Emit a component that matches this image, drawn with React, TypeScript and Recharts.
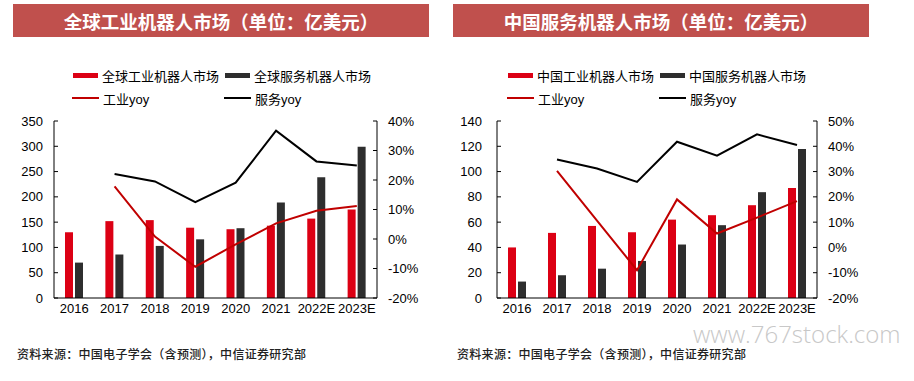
import { ComposedChart, Bar, Line, XAxis, YAxis } from 'recharts';

// categories
const years = ['2016', '2017', '2018', '2019', '2020', '2021', '2022E', '2023E'];

// 全球 (亿美元 / %)
const globalInd = [130, 152, 154, 139, 136, 143, 157, 175];
const globalSrv = [70, 86, 103, 116, 138, 189, 239, 299];
const globalIndYoy = [null, 17.8, 0.8, -9.4, -1.8, 5.3, 9.6, 11.2];
const globalSrvYoy = [null, 22.0, 19.5, 12.5, 19.1, 36.7, 26.3, 24.9];

// 中国 (亿美元 / %)
const chinaInd = [40, 51.5, 57, 52, 62, 65.5, 73.4, 87];
const chinaSrv = [13, 18, 23.2, 29.3, 42.3, 57.6, 83.7, 117.8];
const chinaIndYoy = [null, 30.3, 10.6, -9.0, 19.0, 5.5, 11.8, 18.3];
const chinaSrvYoy = [null, 34.8, 31.2, 25.9, 41.8, 36.3, 44.7, 40.5];

// ticks
const globalLeftTicks = [0, 50, 100, 150, 200, 250, 300, 350];
const globalRightTicks = [-20, -10, 0, 10, 20, 30, 40];
const chinaLeftTicks = [0, 20, 40, 60, 80, 100, 120, 140];
const chinaRightTicks = [-20, -10, 0, 10, 20, 30, 40, 50];

const C = {
  title: '#C0504D',
  red: '#DC0014',
  dark: '#2E2E2E',
  redLine: '#C00000',
  black: '#000000',
  text: '#000000',
  num: "'Liberation Sans', Arial, sans-serif",
  cjk: "'Liberation Sans', 'Noto Sans CJK SC', sans-serif",
};

const build = (ind: number[], srv: number[], iy: (number | null)[], sy: (number | null)[]) =>
  years.map((y, i) => ({ year: y, ind: ind[i], srv: srv[i], indYoy: iy[i], srvYoy: sy[i] }));

function Legend({ x0, names }: { x0: number; names: string[] }) {
  const item = (x: number, y: number, marker: React.ReactNode, label: string) => (
    <div style={{ position: 'absolute', left: x, top: y - 9, height: 18, display: 'flex',
      alignItems: 'center', fontFamily: C.cjk, fontSize: 13, color: C.text, whiteSpace: 'nowrap' }}>
      {marker}
      <span style={{ marginLeft: 4 }}>{label}</span>
    </div>
  );
  const rect = (c: string) => <div style={{ width: 25, height: 5, background: c }} />;
  const line = (c: string) => <div style={{ width: 27, height: 2.5, background: c }} />;
  return (
    <>
      {item(x0, 75, rect(C.red), names[0])}
      {item(x0 + 152, 75, rect(C.dark), names[1])}
      {item(x0 - 1, 98, line(C.redLine), names[2])}
      {item(x0 + 151, 98, line(C.black), names[3])}
    </>
  );
}

interface PanelProps {
  left: number;
  title: string;
  legendX: number;
  names: string[];
  data: any[];
  leftTicks: number[];
  rightTicks: number[];
  leftW: number;
  leftGap: number;
}

function Panel(p: PanelProps) {
  const tick = { fontFamily: C.num, fontSize: 13, fill: C.text };
  return (
    <div style={{ position: 'absolute', left: p.left, top: 0, width: 440, height: 381 }}>
      <ComposedChart width={430} height={330} data={p.data} barSize={8} barGap={2}
        margin={{ top: 121, right: 8, left: 0, bottom: 2 }}>
        <XAxis dataKey="year" interval={0} tickLine={false} tickSize={0} tickMargin={6}
          axisLine={{ stroke: '#000' }} tick={tick} />
        <YAxis yAxisId="l" orientation="left" width={p.leftW} domain={[p.leftTicks[0], p.leftTicks[p.leftTicks.length - 1]]}
          ticks={p.leftTicks} interval={0} axisLine={{ stroke: '#000' }} tickLine={{ stroke: '#000' }}
          tickSize={-4} tickMargin={p.leftGap + 4} tick={tick} />
        <YAxis yAxisId="r" orientation="right" width={45} domain={[p.rightTicks[0], p.rightTicks[p.rightTicks.length - 1]]}
          ticks={p.rightTicks} interval={0} axisLine={{ stroke: '#000' }} tickLine={{ stroke: '#000' }}
          tickSize={-4} tickMargin={15} tick={{ ...tick, textAnchor: 'start' }}
          tickFormatter={(v: number) => `${v}%`} />
        <Bar yAxisId="l" dataKey="ind" fill={C.red} isAnimationActive={false} />
        <Bar yAxisId="l" dataKey="srv" fill={C.dark} isAnimationActive={false} />
        <Line yAxisId="r" dataKey="indYoy" type="linear" stroke={C.redLine} strokeWidth={2}
          dot={false} isAnimationActive={false} />
        <Line yAxisId="r" dataKey="srvYoy" type="linear" stroke={C.black} strokeWidth={2}
          dot={false} isAnimationActive={false} />
      </ComposedChart>
      <div style={{ position: 'absolute', left: 13, top: 4, width: 416, height: 33, background: C.title,
        display: 'flex', alignItems: 'center', justifyContent: 'center', color: '#fff',
        fontFamily: "'Noto Sans CJK SC', sans-serif", fontWeight: 700, fontSize: 18.5 }}>
        {p.title}
      </div>
      <Legend x0={p.legendX} names={p.names} />
      <div style={{ position: 'absolute', left: 17, top: 345, fontFamily: "'Noto Sans CJK SC', sans-serif",
        fontSize: 12, fontWeight: 500, color: '#222', whiteSpace: 'nowrap', letterSpacing: 0.3 }}>
        资料来源：中国电子学会（含预测），中信证券研究部
      </div>
    </div>
  );
}

export default function App() {
  return (
    <div style={{ position: 'absolute', left: 0, top: 0, width: 914, height: 381, background: '#fff', overflow: 'hidden' }}>
      <Panel left={0} title="全球工业机器人市场（单位：亿美元）" legendX={73}
        names={['全球工业机器人市场', '全球服务机器人市场', '工业yoy', '服务yoy']}
        data={build(globalInd, globalSrv, globalIndYoy, globalSrvYoy)}
        leftTicks={globalLeftTicks} rightTicks={globalRightTicks} leftW={54} leftGap={11} />
      <Panel left={440} title="中国服务机器人市场（单位：亿美元）" legendX={68}
        names={['中国工业机器人市场', '中国服务机器人市场', '工业yoy', '服务yoy']}
        data={build(chinaInd, chinaSrv, chinaIndYoy, chinaSrvYoy)}
        leftTicks={chinaLeftTicks} rightTicks={chinaRightTicks} leftW={57} leftGap={15} />
      <div style={{ position: 'absolute', left: 693, top: 318, fontFamily: "'Open Sans', sans-serif",
        fontWeight: 300, fontSize: 24, color: '#c8c8c8', whiteSpace: 'nowrap', lineHeight: '32px' }}>
        www.767stock.com
      </div>
    </div>
  );
}
